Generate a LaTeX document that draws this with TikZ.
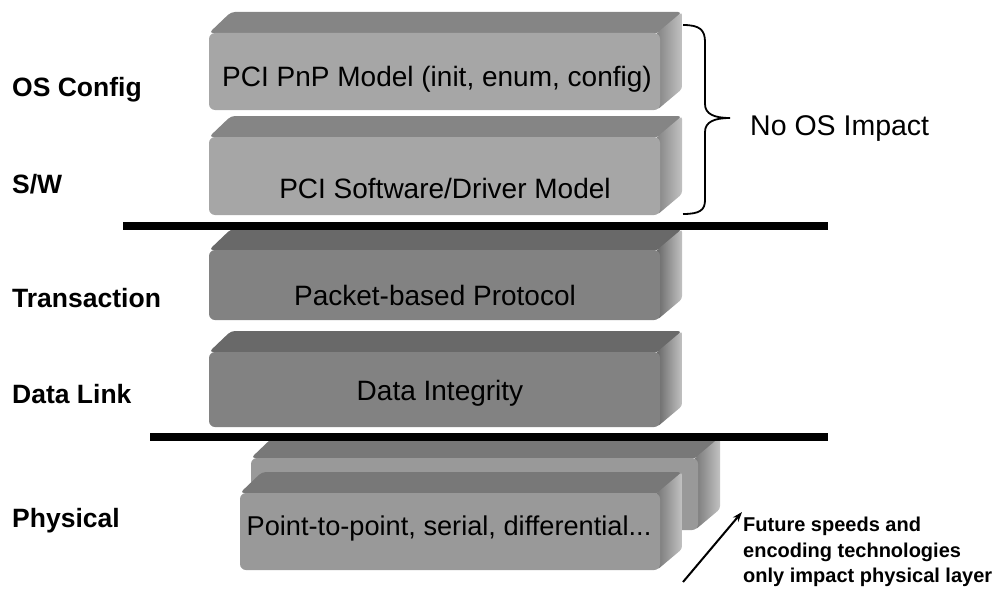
\documentclass[tikz,border=0pt]{standalone}
\usepackage{fontspec}
\setmainfont{Liberation Sans}
\usetikzlibrary{arrows.meta}
\definecolor{sidecol}{gray}{0.76}
\definecolor{lfront}{gray}{0.65}
\definecolor{ltop}{gray}{0.52}
\definecolor{dfront}{gray}{0.51}
\definecolor{dtop}{gray}{0.41}
\definecolor{pfront}{gray}{0.60}
\definecolor{ptop}{gray}{0.47}
% #1 x0, #2 y0, #3 x1, #4 y1, #5 front colour, #6 top colour
\newcommand\slabbox[6]{%
  \fill[#6, rounded corners=4pt] (#1,#2) -- (#1+22,#2-21) -- (#3+22,#2-21) -- (#3,#2) -- cycle;
  \shade[left color=#6, right color=sidecol, rounded corners=3pt] (#3-3,#2) -- (#3+22,#2-21) -- (#3+22,#4-21) -- (#3-3,#4) -- cycle;
  \fill[#5, rounded corners=6pt] (#1,#2) rectangle (#3,#4);
}
\tikzset{
  boxtext/.style={font=\fontsize{28}{34}\selectfont, inner sep=0pt, anchor=base},
  layertext/.style={font=\bfseries\fontsize{26.5}{32}\selectfont, inner sep=0pt, anchor=base west},
  notetext/.style={font=\bfseries\fontsize{20}{26}\selectfont, inner sep=0pt, anchor=base west},
  sepline/.style={line width=7.5pt},
}
\begin{document}
\begin{tikzpicture}[x=1pt, y=-1pt]
\useasboundingbox (0,0) rectangle (998,594);
% slabs
\slabbox{209}{33}{660}{110}{lfront}{ltop}
\slabbox{209}{137}{660}{215}{lfront}{ltop}
\slabbox{209}{250}{660}{320}{dfront}{dtop}
\slabbox{209}{352}{660}{427}{dfront}{dtop}
\slabbox{251}{458}{698}{530}{pfront}{ptop}
\slabbox{240}{493}{660}{570}{pfront}{ptop}
% box texts
\node[boxtext] (pnp) at (437,86) {PCI PnP Model (init, enum, config)};
\node[boxtext] (sw) at (445,198) {PCI Software/Driver Model};
\node[boxtext] (pkt) at (435,305) {Packet-based Protocol};
\node[boxtext] (dil) at (440,400) {Data Integrity};
\node[boxtext, font=\fontsize{27.2}{33}\selectfont] (ptp) at (449,535) {Point-to-point, serial, differential...};
% separator lines
\draw[sepline] (123,226) -- (828,226);
\draw[sepline] (150,437) -- (828,437);
% layer labels
\node[layertext] (osc) at (12,96) {OS Config};
\node[layertext] (swl) at (12,193) {S/W};
\node[layertext] (trl) at (12,307) {Transaction};
\node[layertext] (dll) at (12,403) {Data Link};
\node[layertext] (phl) at (12,527) {Physical};
% brace
\coordinate (bt) at (683,25);
\coordinate (bb) at (683,214);
\coordinate (tip) at (730,118);
\draw[line width=1.8pt] (bt) .. controls (700,25) and (705,30) .. (705,42) -- (705,104)
  .. controls (705,114) and (714,118) .. (tip)
  .. controls (714,118) and (705,122) .. (705,132) -- (705,200)
  .. controls (705,210) and (700,214) .. (bb);
\node[font=\fontsize{28.5}{34}\selectfont, inner sep=0pt, anchor=base west] (noos) at (750,135) {No OS Impact};
% arrow
\coordinate (a0) at (683,582);
\coordinate (a1) at (742,512);
\draw[line width=2pt, -{Stealth[length=10pt,width=7pt]}] (a0) -- (a1);
\node[notetext] (n1) at (743,531) {Future speeds and};
\node[notetext] (n2) at (743,557) {encoding technologies};
\node[notetext] (n3) at (743,582) {only impact physical layer};
\end{tikzpicture}
\end{document}
